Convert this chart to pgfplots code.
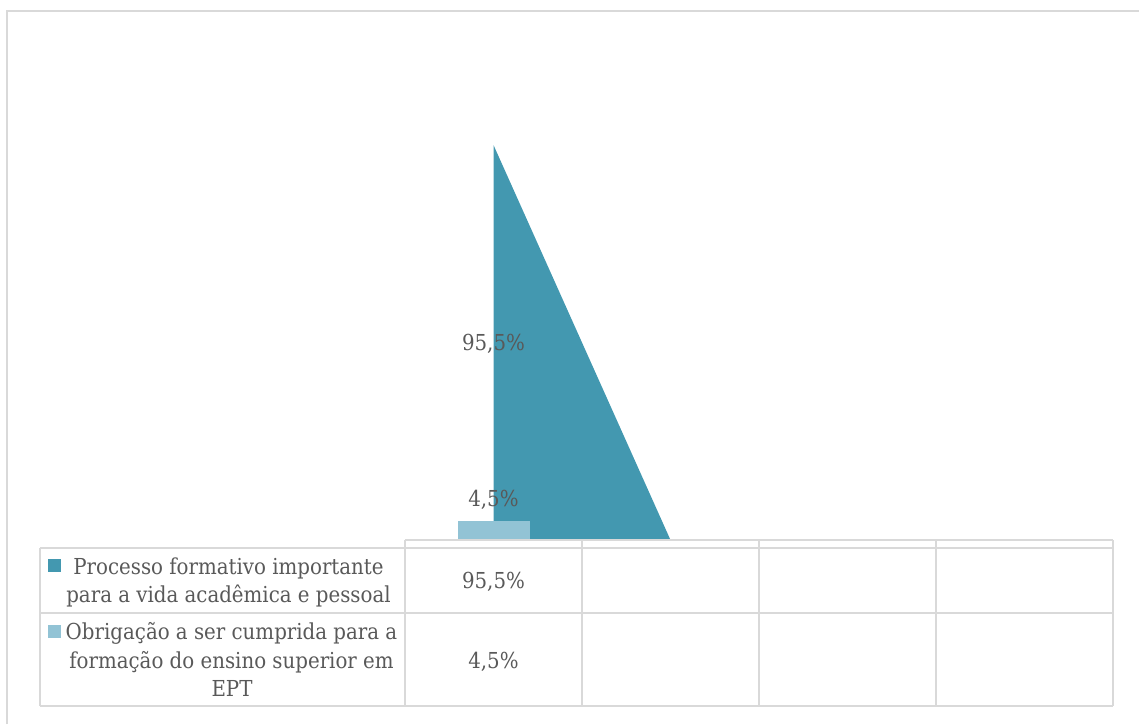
\documentclass[border=0pt]{standalone}
\usepackage{pgfplots}
\pgfplotsset{compat=1.18}
\usepackage{fontspec}
\setmainfont{DejaVu Serif Condensed}

\definecolor{serieA}{HTML}{4398B0}
\definecolor{serieB}{HTML}{92C3D5}
\definecolor{txt}{HTML}{595959}
\definecolor{rule}{HTML}{D9D9D9}

\newcommand\chartfont{\fontsize{11}{13.5}\selectfont}

\begin{document}
\begin{tikzpicture}
% page frame: 1139 x 724 units of 0.5pt, y running downwards
\begin{scope}[x=0.5pt,y=-0.5pt]
  \path[use as bounding box] (0,0) rectangle (1139,724);
  \draw[rule, line width=0.75pt] (7,724) -- (7,11) -- (1139,11);
\end{scope}

% plot area: categories 1..4 centred in the data table columns
\begin{axis}[
  at={(202.5pt,-270pt)}, anchor=south west,
  scale only axis, width=354pt, height=206.8pt,
  xmin=0.5, xmax=4.5, ymin=0, ymax=100,
  axis lines=none, clip=false,
  every node near coord/.append style={font=\chartfont, text=txt},
]
  \addplot[fill=serieA, draw=none] coordinates {(1,95.5) (2,0)} \closedcycle;
  \addplot[ybar, bar width=36pt, fill=serieB, draw=none,
    point meta=explicit symbolic, nodes near coords,
    every node near coord/.append style={anchor=base, inner sep=0pt, yshift=7.5pt}]
    coordinates {(1,4.5) [4,5\%]};
  \node[anchor=base, inner sep=0pt, text=txt, font=\chartfont]
    at (axis cs:1,45.9) {95,5\%};
\end{axis}

% data table under the plot
\begin{scope}[x=0.5pt,y=-0.5pt, every node/.style={text=txt, inner sep=0pt, anchor=base, font=\chartfont}]
  \begin{scope}[rule, line width=1pt]
    \draw (405,540) -- (1113,540);
    \draw (40,548) -- (1113,548);
    \draw (40,613) -- (1113,613);
    \draw (40,706) -- (1113,706);
    \draw (40,548) -- (40,706);
    \foreach \x in {405,582,759,936,1113} \draw (\x,540) -- (\x,706);
  \end{scope}
  \fill[serieA] (48,559) rectangle (61,572);
  \fill[serieB] (48,625) rectangle (61,638);
  \node at (228.5,574) {Processo formativo importante};
  \node at (228.5,602) {para a vida acadêmica e pessoal};
  \node at (231.5,639) {Obrigação a ser cumprida para a};
  \node at (231.5,668) {formação do ensino superior em};
  \node at (232,696) {EPT};
  \node at (493.5,588) {95,5\%};
  \node at (493.5,668) {4,5\%};
\end{scope}
\end{tikzpicture}
\end{document}
